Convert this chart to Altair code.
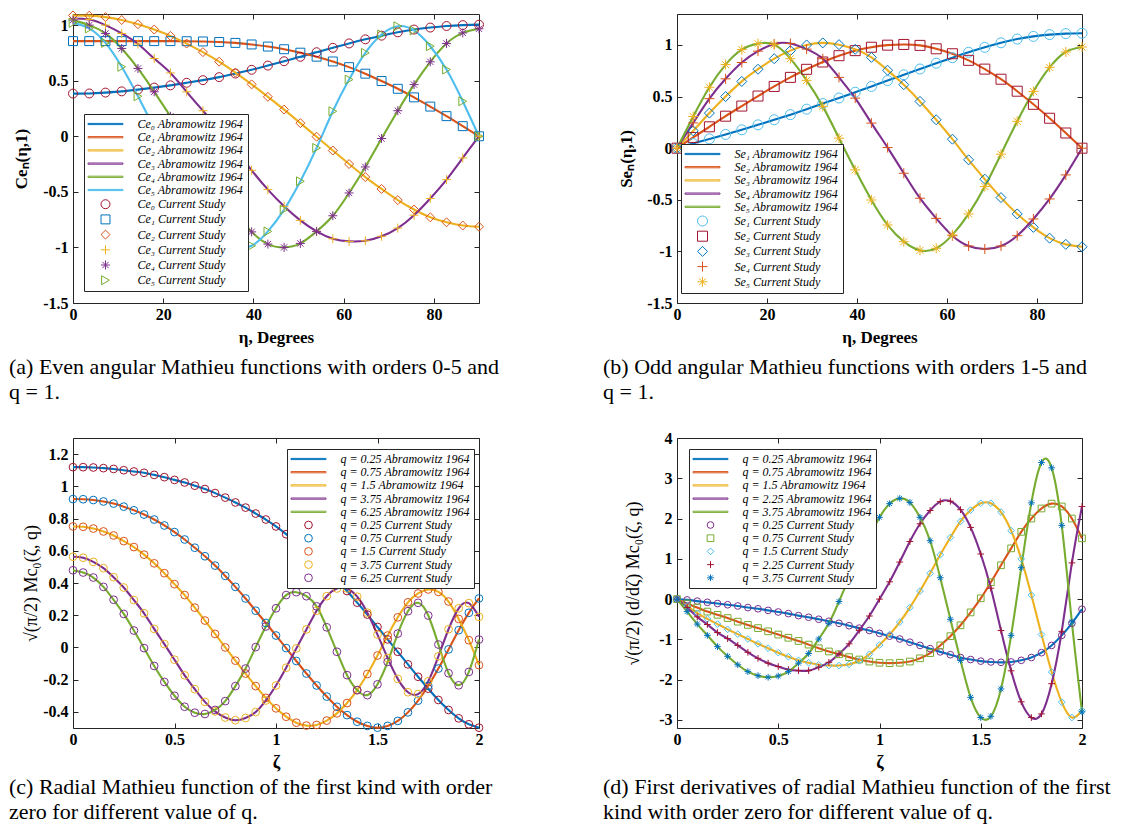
import math
import altair as alt
import pandas as pd

# ---------------- data ----------------
ETA = [0, 3.6, 7.2, 10.8, 14.4, 18, 21.6, 25.2, 28.8, 32.4, 36, 39.6, 43.2,
       46.8, 50.4, 54, 57.6, 61.2, 64.8, 68.4, 72, 75.6, 79.2, 82.8, 86.4, 90]

CE0 = [0.384, 0.385, 0.393, 0.404, 0.42, 0.438, 0.458, 0.481, 0.505, 0.532, 0.564, 0.598, 0.636,
       0.675, 0.715, 0.756, 0.796, 0.835, 0.872, 0.905, 0.935, 0.96, 0.978, 0.992, 1.0, 1.004]
CE1 = [0.856, 0.856, 0.856, 0.856, 0.856, 0.856, 0.856, 0.855, 0.853, 0.848, 0.84, 0.826, 0.807,
       0.783, 0.752, 0.716, 0.673, 0.622, 0.563, 0.497, 0.427, 0.35, 0.267, 0.181, 0.091, 0.0]
CE2 = [1.087, 1.085, 1.072, 1.046, 1.008, 0.96, 0.903, 0.834, 0.757, 0.671, 0.573, 0.467, 0.355,
       0.24, 0.118, -0.004, -0.128, -0.25, -0.367, -0.474, -0.574, -0.659, -0.729, -0.774, -0.803, -0.814]
CE3 = [1.06, 1.05, 1.0, 0.925, 0.83, 0.70, 0.57, 0.40, 0.23, 0.06, -0.12, -0.306, -0.48,
       -0.63, -0.757, -0.856, -0.922, -0.946, -0.94, -0.9, -0.826, -0.71, -0.56, -0.39, -0.195, 0.0]
CE4 = [1.045, 1.0, 0.925, 0.79, 0.61, 0.40, 0.18, -0.05, -0.28, -0.49, -0.69, -0.86, -0.97,
       -1.0, -0.964, -0.856, -0.715, -0.51, -0.276, -0.02, 0.23, 0.465, 0.67, 0.835, 0.93, 0.967]
CE5 = [1.02, 0.97, 0.84, 0.625, 0.36, 0.075, -0.21, -0.48, -0.71, -0.9, -0.995, -0.985, -0.856,
       -0.66, -0.405, -0.105, 0.225, 0.51, 0.75, 0.916, 0.99, 0.952, 0.81, 0.6, 0.315, 0.0]

SE1 = [0, 0.045, 0.09, 0.133, 0.178, 0.226, 0.275, 0.325, 0.378, 0.432, 0.486, 0.542, 0.598,
       0.655, 0.711, 0.767, 0.823, 0.877, 0.929, 0.977, 1.021, 1.057, 1.083, 1.1, 1.11, 1.113]
SE2 = [0, 0.104, 0.207, 0.31, 0.408, 0.505, 0.598, 0.686, 0.764, 0.835, 0.896, 0.945, 0.978,
       0.998, 1.005, 0.996, 0.963, 0.915, 0.851, 0.766, 0.668, 0.552, 0.425, 0.29, 0.147, 0.0]
SE3 = [0, 0.168, 0.34, 0.5, 0.647, 0.765, 0.867, 0.945, 1.0, 1.02, 1.003, 0.958, 0.88,
       0.755, 0.615, 0.453, 0.275, 0.087, -0.113, -0.3, -0.479, -0.637, -0.767, -0.872, -0.932, -0.955]
SE4 = [0, 0.245, 0.48, 0.672, 0.83, 0.94, 1.01, 1.015, 0.96, 0.867, 0.686, 0.485, 0.243,
       0.006, -0.243, -0.485, -0.68, -0.848, -0.948, -0.977, -0.948, -0.848, -0.686, -0.492, -0.259, 0.0]
SE5 = [0, 0.307, 0.59, 0.81, 0.955, 1.013, 1.003, 0.867, 0.657, 0.405, 0.097, -0.21, -0.502,
       -0.744, -0.906, -0.99, -0.97, -0.84, -0.637, -0.372, -0.058, 0.26, 0.55, 0.783, 0.932, 0.98]

ZETA = [0, 0.05, 0.1, 0.15, 0.2, 0.25, 0.3, 0.35, 0.4, 0.45, 0.5, 0.55, 0.6, 0.65, 0.7, 0.75,
        0.8, 0.85, 0.9, 0.95, 1.0, 1.05, 1.1, 1.15, 1.2, 1.25, 1.3, 1.35, 1.4, 1.45, 1.5, 1.55,
        1.6, 1.65, 1.7, 1.75, 1.8, 1.85, 1.9, 1.95, 2.0]

MC_025 = [1.119, 1.119, 1.117, 1.113, 1.108, 1.1, 1.092, 1.084, 1.071, 1.057, 1.04, 1.024, 1.004,
          0.983, 0.958, 0.93, 0.9, 0.868, 0.831, 0.794, 0.751, 0.703, 0.652, 0.598, 0.541, 0.481,
          0.418, 0.35, 0.278, 0.204, 0.127, 0.05, -0.027, -0.105, -0.182, -0.256, -0.326, -0.388,
          -0.44, -0.477, -0.498]
MC_075 = [0.921, 0.92, 0.915, 0.906, 0.893, 0.874, 0.851, 0.825, 0.794, 0.757, 0.716, 0.67, 0.619,
          0.566, 0.508, 0.444, 0.376, 0.304, 0.228, 0.152, 0.074, -0.004, -0.084, -0.162, -0.236,
          -0.305, -0.368, -0.42, -0.461, -0.487, -0.498, -0.487, -0.456, -0.403, -0.33, -0.238,
          -0.131, -0.012, 0.107, 0.215, 0.304]
MC_15 = [0.751, 0.749, 0.738, 0.72, 0.695, 0.66, 0.623, 0.576, 0.522, 0.461, 0.393, 0.325, 0.247,
         0.167, 0.084, 0.0, -0.082, -0.162, -0.24, -0.313, -0.378, -0.43, -0.467, -0.485, -0.481,
         -0.454, -0.409, -0.345, -0.265, -0.165, -0.05, 0.074, 0.187, 0.28, 0.335, 0.36, 0.345,
         0.285, 0.177, 0.045, -0.11]
MC_375 = [0.563, 0.557, 0.531, 0.492, 0.436, 0.372, 0.294, 0.212, 0.115, 0.021, -0.076, -0.173,
          -0.259, -0.338, -0.397, -0.435, -0.452, -0.438, -0.401, -0.329, -0.236, -0.126, -0.006,
          0.112, 0.228, 0.318, 0.366, 0.366, 0.315, 0.216, 0.08, -0.066, -0.195, -0.278, -0.29,
          -0.21, -0.055, 0.113, 0.243, 0.275, 0.19]
MC_625 = [0.479, 0.465, 0.434, 0.376, 0.296, 0.208, 0.105, -0.004, -0.115, -0.214, -0.3, -0.368,
          -0.405, -0.413, -0.388, -0.333, -0.24, -0.131, 0.002, 0.13, 0.243, 0.325, 0.343, 0.318,
          0.255, 0.125, -0.027, -0.172, -0.265, -0.296, -0.229, -0.09, 0.086, 0.225, 0.277, 0.198,
          0.018, -0.16, -0.235, -0.152, 0.049]

DMC_025 = [0, -0.02, -0.05, -0.08, -0.11, -0.14, -0.17, -0.21, -0.24, -0.28, -0.32, -0.36, -0.41,
           -0.45, -0.5, -0.55, -0.6, -0.66, -0.72, -0.78, -0.85, -0.92, -0.99, -1.07, -1.15, -1.23,
           -1.31, -1.38, -1.45, -1.5, -1.54, -1.56, -1.57, -1.56, -1.52, -1.45, -1.33, -1.15, -0.9,
           -0.6, -0.25]
DMC_075 = [0, -0.11, -0.21, -0.31, -0.39, -0.47, -0.56, -0.64, -0.72, -0.8, -0.88, -0.96, -1.04,
           -1.13, -1.22, -1.3, -1.37, -1.44, -1.5, -1.55, -1.58, -1.59, -1.58, -1.55, -1.47, -1.34,
           -1.15, -0.92, -0.65, -0.33, 0.02, 0.42, 0.84, 1.26, 1.67, 2.0, 2.25, 2.37, 2.3, 2.0, 1.51]
DMC_15 = [0, -0.17, -0.35, -0.49, -0.62, -0.75, -0.87, -0.99, -1.11, -1.22, -1.33, -1.43, -1.52,
          -1.58, -1.63, -1.65, -1.65, -1.62, -1.53, -1.37, -1.14, -0.88, -0.57, -0.21, 0.2, 0.64,
          1.1, 1.53, 1.93, 2.21, 2.38, 2.38, 2.16, 1.7, 1.0, 0.1, -0.88, -1.81, -2.56, -2.94, -2.77]
DMC_225 = [0, -0.21, -0.44, -0.63, -0.83, -0.98, -1.15, -1.32, -1.47, -1.59, -1.675, -1.75, -1.775,
           -1.775, -1.69, -1.57, -1.36, -1.11, -0.775, -0.42, 0.0, 0.43, 0.92, 1.43, 1.87, 2.2, 2.42,
           2.43, 2.22, 1.78, 1.12, 0.27, -0.78, -1.78, -2.55, -2.94, -2.85, -2.1, -0.8, 0.9, 2.3]
DMC_375 = [0, -0.31, -0.62, -0.9, -1.18, -1.42, -1.63, -1.8, -1.9, -1.94, -1.91, -1.8, -1.59, -1.35,
           -0.99, -0.6, -0.06, 0.52, 1.06, 1.56, 2.03, 2.37, 2.5, 2.4, 2.03, 1.45, 0.53, -0.5, -1.52,
           -2.44, -2.94, -2.91, -2.23, -0.9, 0.78, 2.39, 3.39, 3.26, 1.83, -0.57, -2.8]

DEG_TICKS = [0, 20, 40, 60, 80]
ANG_Y_TICKS = [-1.5, -1, -0.5, 0, 0.5, 1]
Z_TICKS = [0, 0.5, 1, 1.5, 2]
C_Y_TICKS = [-0.4, -0.2, 0, 0.2, 0.4, 0.6, 0.8, 1, 1.2]
D_Y_TICKS = [-3, -2, -1, 0, 1, 2, 3, 4]

CE_LINES = ["Ce₀ Abramowitz 1964", "Ce₁ Abramowitz 1964", "Ce₂ Abramowitz 1964",
            "Ce₃ Abramowitz 1964", "Ce₄ Abramowitz 1964", "Ce₅ Abramowitz 1964"]
CE_MARKS = ["Ce₀ Current Study", "Ce₁ Current Study", "Ce₂ Current Study",
            "Ce₃ Current Study", "Ce₄ Current Study", "Ce₅ Current Study"]
SE_LINES = ["Se₁ Abramowitz 1964", "Se₂ Abramowitz 1964", "Se₃ Abramowitz 1964",
            "Se₄ Abramowitz 1964", "Se₅ Abramowitz 1964"]
SE_MARKS = ["Se₁ Current Study", "Se₂ Current Study", "Se₃ Current Study",
            "Se₄ Current Study", "Se₅ Current Study"]
QC = ["0.25", "0.75", "1.5", "3.75", "6.25"]
QD = ["0.25", "0.75", "1.5", "2.25", "3.75"]
C_LINES = [f"q = {q} Abramowitz 1964" for q in QC]
C_MARKS = [f"q = {q} Current Study" for q in QC]
D_LINES = [f"q = {q} Abramowitz 1964" for q in QD]
D_MARKS = [f"q = {q} Current Study" for q in QD]

# ---------------- style ----------------
BLUE, ORANGE, YELLOW = "#0072BD", "#D95319", "#EDB120"
PURPLE, GREEN, CYAN, DARKRED = "#7E2F8E", "#77AC30", "#4DBEEE", "#A2142F"
FONT = "Liberation Serif"
AX = "#262626"
PLUS = "M0,-1V1M-1,0H1"
ASTER = "M0,-1V1M-1,0H1M-0.7,-0.7L0.7,0.7M-0.7,0.7L0.7,-0.7"
CAP = 22


def line_path(size):
    r = math.sqrt(size) / 2
    L = 17.5 / r
    h = 0.6 / r
    return f"M{-L:.3f},{-h:.3f}H{L:.3f}V{h:.3f}H{-L:.3f}Z"


def panel(xs, series, line_labels, mark_labels, line_colors, mark_colors, mark_shapes,
          size, xdom, ydom, xticks, yticks, xtitle, xtitle_size, ytitle, ytitle_x, ytitle_size,
          ytitle_weight, legend_xy, cap_lines, cap_dx, cap_offset, w, h):
    rows = []
    for i, ys in enumerate(series):
        for x, y in zip(xs, ys):
            rows.append({"x": x, "y": y, "line": line_labels[i], "mark": mark_labels[i]})
    df = pd.DataFrame(rows)
    domain = line_labels + mark_labels
    crange = line_colors + mark_colors
    srange = [line_path(size)] * len(line_labels) + mark_shapes
    xsc = alt.Scale(domain=xdom, nice=False, zero=False)
    ysc = alt.Scale(domain=ydom, nice=False, zero=False)
    lab = "'' + datum.value"
    tick_common = dict(domain=False, grid=False, ticks=True, tickSize=5, offset=-5,
                       tickColor=AX, tickWidth=1)
    x_bottom = alt.Axis(values=xticks, orient="bottom", labelExpr=lab, labelFlush=False,
                        labelOverlap=False, labelFont=FONT, labelFontWeight="bold",
                        labelFontSize=16, labelColor="black", labelPadding=3,
                        title=xtitle, titleFont=FONT, titleFontWeight="bold",
                        titleFontSize=xtitle_size, titleColor="black", titleY=39,
                        titleBaseline="middle", **tick_common)
    y_left = alt.Axis(values=yticks, orient="left", labelExpr=lab, labelFlush=False,
                      labelOverlap=False, labelFont=FONT, labelFontWeight="bold",
                      labelFontSize=16, labelColor="black", labelPadding=5,
                      title=ytitle, titleFont=FONT, titleFontWeight=ytitle_weight,
                      titleFontSize=ytitle_size, titleColor="black", titleX=ytitle_x,
                      titleY=h / 2, titleBaseline="middle", titleAngle=270, **tick_common)
    x_top = alt.Axis(values=xticks, orient="top", labels=False, title=None, **tick_common)
    y_right = alt.Axis(values=yticks, orient="right", labels=False, title=None, **tick_common)

    leg = alt.Legend(title=None, orient="none", legendX=legend_xy[0], legendY=legend_xy[1],
                     strokeColor=AX, fillColor="white", padding=4, rowPadding=1.2,
                     symbolSize=size, symbolStrokeWidth=1, symbolOffset=11.5, labelOffset=26,
                     labelFont=FONT, labelFontStyle="italic", labelFontSize=12,
                     labelColor="black", labelLimit=300, symbolLimit=50)

    lines = alt.Chart(df).mark_line(interpolate="natural", strokeWidth=2.1).encode(
        x=alt.X("x:Q", scale=xsc, axis=x_bottom),
        y=alt.Y("y:Q", scale=ysc, axis=y_left),
        stroke=alt.Stroke("line:N", scale=alt.Scale(domain=line_labels, range=line_colors),
                          legend=None),
    )
    points = alt.Chart(df).mark_point(filled=False, strokeWidth=1, size=size, opacity=1).encode(
        x=alt.X("x:Q", scale=xsc, axis=x_top),
        y=alt.Y("y:Q", scale=ysc, axis=y_right),
        color=alt.Color("mark:N", scale=alt.Scale(domain=domain, range=crange), legend=leg),
        shape=alt.Shape("mark:N", scale=alt.Scale(domain=domain, range=srange), legend=leg),
    )
    title = alt.Title(text=cap_lines, orient="bottom", anchor="start",
                      frame="group", dx=cap_dx, offset=cap_offset, font=FONT, fontSize=CAP,
                      fontWeight="normal", color="black", lineHeight=25)
    return (alt.layer(lines, points)
            .resolve_axis(x="independent", y="independent")
            .properties(width=w, height=h, title=title))


pa = panel(ETA, [CE0, CE1, CE2, CE3, CE4, CE5], CE_LINES, CE_MARKS,
           [BLUE, ORANGE, YELLOW, PURPLE, GREEN, CYAN],
           [DARKRED, BLUE, ORANGE, YELLOW, PURPLE, GREEN],
           ["circle", "square", "diamond", PLUS, ASTER, "triangle-right"],
           80, [0, 90], [-1.5, 1.1], DEG_TICKS, ANG_Y_TICKS, "η,  Degrees", 17, "Ceₙ(η,1)",
           -57, 17, "bold", (11, 100),
           ["(a) Even angular Mathieu functions with orders 0-5 and", "q = 1."], -64, 12, 406, 289)

pb = panel(ETA, [SE1, SE2, SE3, SE4, SE5], SE_LINES, SE_MARKS,
           [BLUE, ORANGE, YELLOW, PURPLE, GREEN],
           [CYAN, DARKRED, BLUE, ORANGE, YELLOW],
           ["circle", "square", "diamond", PLUS, ASTER],
           100, [0, 90], [-1.5, 1.3], DEG_TICKS, ANG_Y_TICKS, "η,  Degrees", 17, "Seₙ(η,1)",
           -56, 17, "bold", (4, 130),
           ["(b) Odd angular Mathieu functions with orders 1-5 and", "q = 1."], -74, 12, 405, 289)

pc = panel(ZETA, [MC_025, MC_075, MC_15, MC_375, MC_625], C_LINES, C_MARKS,
           [BLUE, ORANGE, YELLOW, PURPLE, GREEN],
           [DARKRED, BLUE, ORANGE, YELLOW, PURPLE],
           ["circle"] * 5,
           60, [0, 2], [-0.5, 1.3], Z_TICKS, C_Y_TICKS, "ζ", 18, "√(π/2) Mc₀(ζ, q)",
           -47, 18, "normal", (214, 11),
           ["(c) Radial Mathieu function of the first kind with order",
            "zero for different value of q."], -64, 6, 406, 290)

pd_ = panel(ZETA, [DMC_025, DMC_075, DMC_15, DMC_225, DMC_375], D_LINES, D_MARKS,
            [BLUE, ORANGE, YELLOW, PURPLE, GREEN],
            [PURPLE, GREEN, CYAN, DARKRED, BLUE],
            ["circle", "square", "diamond", PLUS, ASTER],
            45, [0, 2], [-3.2, 4], Z_TICKS, D_Y_TICKS, "ζ", 18, "√(π/2) (d/dζ) Mc₀(ζ, q)",
            -49, 18, "normal", (12, 11),
            ["(d) First derivatives of radial Mathieu function of the first",
             "kind with order zero for different value of q."], -74, 6, 405, 290)

chart = (alt.concat(pa, pb, pc, pd_, columns=2, spacing={"row": 135, "column": 198},
                    bounds="flush")
         .resolve_scale(color="independent", shape="independent", stroke="independent")
         .properties(padding={"left": 0, "top": 0, "right": 0, "bottom": 0},
                     background="white")
         .configure_view(stroke=AX, strokeWidth=1))

chart.save("out.html", embed_options={"renderer": "svg", "actions": False})
